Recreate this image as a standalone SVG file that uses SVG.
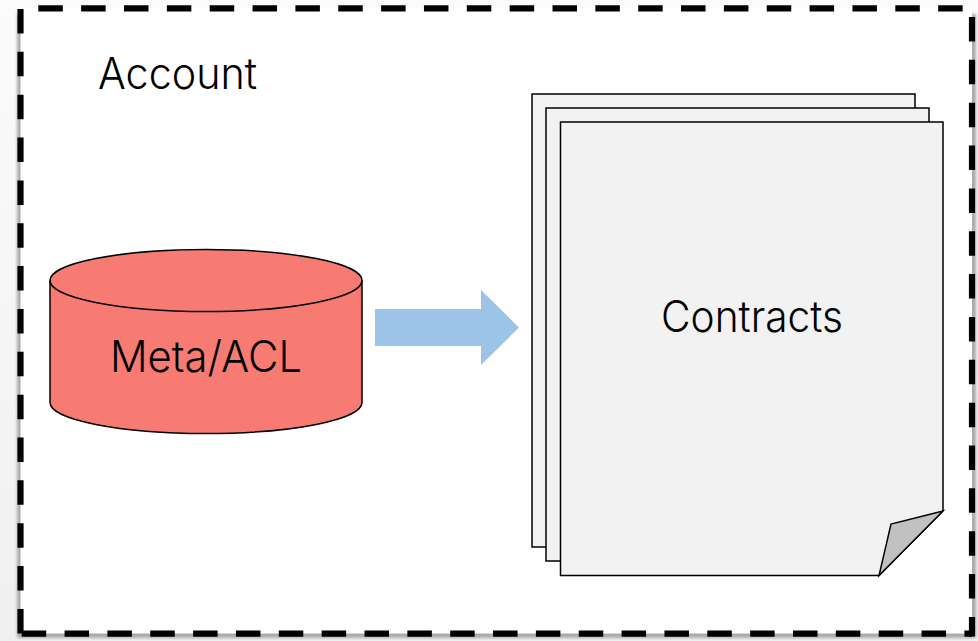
<svg xmlns="http://www.w3.org/2000/svg" width="978" height="641" viewBox="0 0 978 641">
<style>
.t{font-family:"Inter","Noto Sans","Liberation Sans",sans-serif;font-weight:300;font-size:43px;fill:#000}
.o{stroke:#000;stroke-width:1.5}
.p{fill:#f2f2f2;stroke:#000;stroke-width:1.5}
.d{fill:none;stroke:#000;stroke-width:6.200;stroke-dasharray:24.5 18.35}
</style>
<defs>
<filter id="b" x="-5%" y="-5%" width="110%" height="110%"><feGaussianBlur stdDeviation="1.800"/></filter>
<linearGradient id="bg" x1="0" y1="0" x2="0" y2="1"><stop offset="0" stop-color="#fbfbfb"/><stop offset="1" stop-color="#f0f0f0"/></linearGradient>
</defs>
<rect width="978" height="641" fill="url(#bg)"/>
<rect x="17" y="14" width="959" height="624" fill="#aaa" filter="url(#b)"/>
<rect x="20.500" y="8" width="951.500" height="625.500" fill="#fff"/>
<g id="frame">
<line class="d" x1="38.300" y1="8.300" x2="972" y2="8.300"/>
<line class="d" x1="20.500" y1="9" x2="20.500" y2="636.500"/>
<line class="d" x1="21.700" y1="633.700" x2="972" y2="633.700"/>
<line class="d" x1="972" y1="17" x2="972" y2="636.500"/>
</g>
<g id="account"><text class="t" x="98" y="88.500" textLength="159" lengthAdjust="spacingAndGlyphs">Account</text></g>
<g id="meta-acl">
<path d="M50 280.500V402.500A156 31 0 0 0 362 402.500V280.500A156 31 0 0 0 50 280.500Z" fill="#f87b73" class="o"/>
<path d="M50 280.500A156 31 0 0 0 362 280.500" fill="none" class="o"/>
<text class="t" x="110" y="371.500" textLength="192" lengthAdjust="spacingAndGlyphs">Meta/ACL</text>
</g>
<g id="connectors"><polygon points="375,309 481,309 481,290 519,327.500 481,365 481,346 375,346" fill="#9dc3e6"/></g>
<g id="contracts">
<path class="p" d="M532 94H915V483L851 547H532Z"/>
<path class="p" d="M546 108H929V497L865 561H546Z"/>
<path class="p" d="M560.500 122H943V511L879 575.500H560.500Z"/>
<path d="M943 511L891 524L879 575.500Z" fill="#c1c1c1" class="o"/>
<text class="t" x="661" y="331.500" textLength="182" lengthAdjust="spacingAndGlyphs">Contracts</text>
</g>
</svg>
